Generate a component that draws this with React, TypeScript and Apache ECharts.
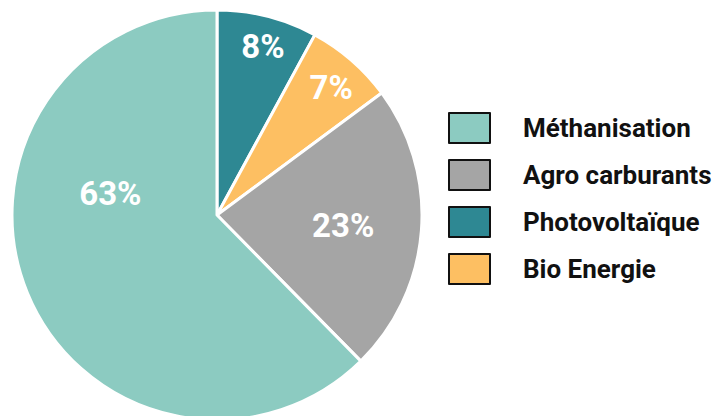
import React, { useEffect, useRef } from "react";
import * as echarts from "echarts";

const categories = ["Photovoltaïque", "Bio Energie", "Agro carburants", "Méthanisation"];
const values = [8, 7, 23, 63];
const colors = ["#2e8893", "#fdbf62", "#a5a5a5", "#8ccbc1"];
const labelOffsets = [[20, -66], [45, -48], [21, 2], [-9, -61]];
const legendOrder = ["Méthanisation", "Agro carburants", "Photovoltaïque", "Bio Energie"];

const FONT = 'Roboto, "Liberation Sans", sans-serif';

export default function App() {
  const ref = useRef<HTMLDivElement>(null);
  useEffect(() => {
    document.body.style.margin = "0";
    const chart = echarts.init(ref.current!, null, { renderer: "svg" });
    chart.setOption({
      animation: false,
      backgroundColor: "#ffffff",
      legend: {
        data: legendOrder,
        orient: "vertical",
        left: 448,
        top: 112,
        padding: 0,
        itemWidth: 41,
        itemHeight: 30,
        itemGap: 15,
        icon: "rect",
        itemStyle: { borderColor: "#111111", borderWidth: 2 },
        textStyle: {
          color: "#111111",
          fontFamily: FONT,
          fontWeight: "bold",
          fontSize: 26,
          lineHeight: 30,
          padding: [0, 0, 0, 28],
        },
        selectedMode: false,
      },
      series: [
        {
          type: "pie",
          center: [217, 215],
          radius: [0, 205],
          startAngle: 90,
          clockwise: true,
          itemStyle: { borderColor: "#ffffff", borderWidth: 3 },
          label: {
            show: true,
            position: "inside",
            formatter: "{c}%",
            color: "#ffffff",
            fontFamily: FONT,
            fontWeight: "bold",
            fontSize: 33,
          },
          labelLine: { show: false },
          emphasis: { disabled: true },
          data: categories.map((name, i) => ({
            name,
            value: values[i],
            itemStyle: { color: colors[i] },
            label: { offset: labelOffsets[i] },
          })),
        },
      ],
    });
    return () => chart.dispose();
  }, []);
  return <div ref={ref} style={{ width: 717, height: 416 }} />;
}
